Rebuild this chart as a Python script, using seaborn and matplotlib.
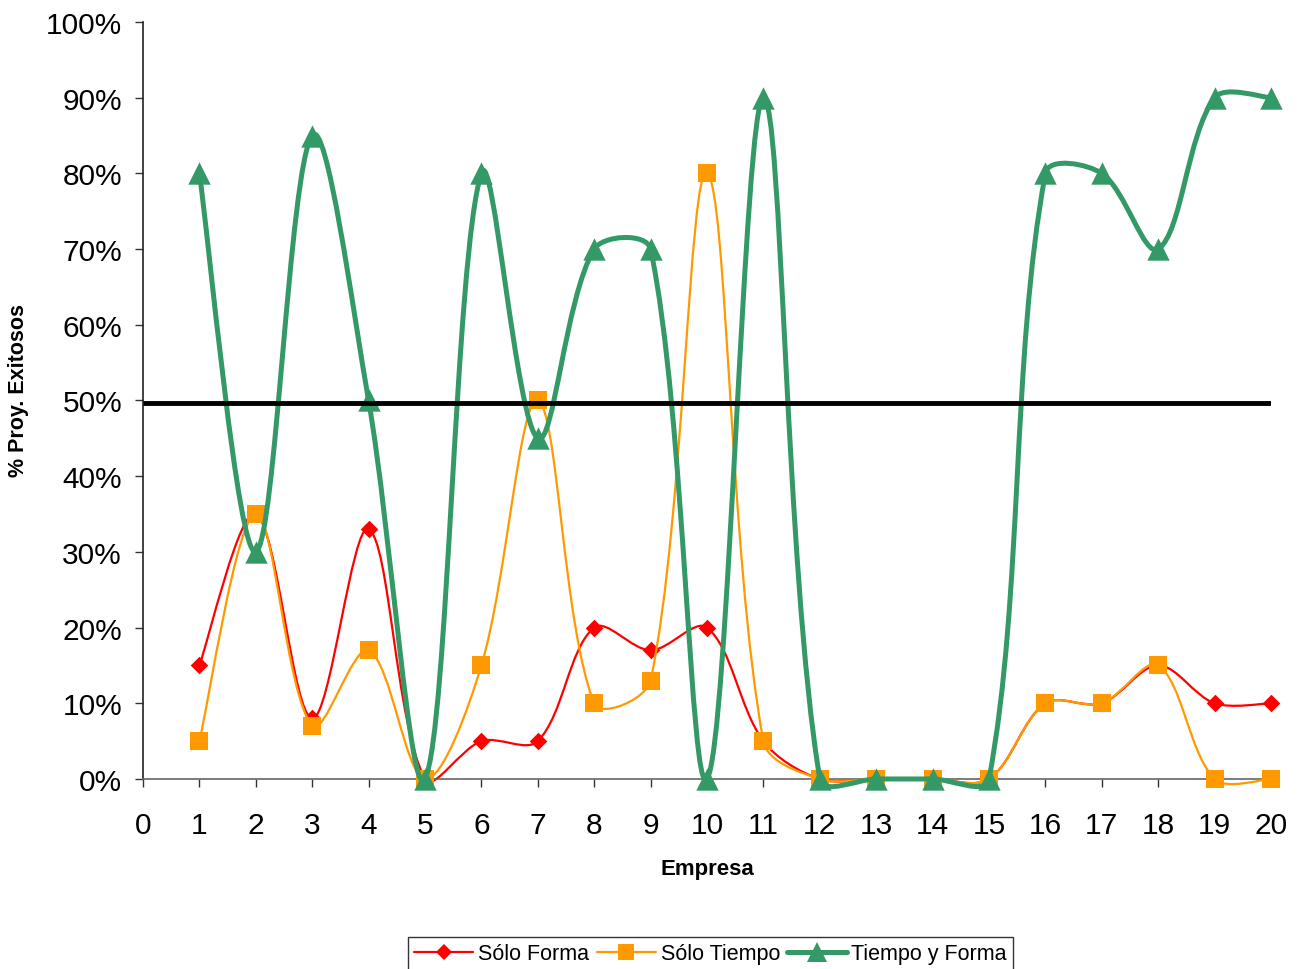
import numpy as np
import pandas as pd
import seaborn as sns
import matplotlib.pyplot as plt
from matplotlib.path import Path
from matplotlib.patches import PathPatch
from matplotlib.lines import Line2D
from matplotlib.ticker import PercentFormatter, MultipleLocator

# datos
empresas = list(range(1, 21))
solo_forma = [15, 35, 8, 33, 0, 5, 5, 20, 17, 20, 5, 0, 0, 0, 0, 10, 10, 15, 10, 10]
solo_tiempo = [5, 35, 7, 17, 0, 15, 50, 10, 13, 80, 5, 0, 0, 0, 0, 10, 10, 15, 0, 0]
tiempo_forma = [80, 30, 85, 50, 0, 80, 45, 70, 70, 0, 90, 0, 0, 0, 0, 80, 80, 70, 90, 90]
umbral_x = [0, 20]
umbral_y = [49.7, 49.7]
series = ["Sólo Forma", "Sólo Tiempo", "Tiempo y Forma"]

df = pd.DataFrame({
    "Empresa": empresas * 3,
    "valor": np.array(solo_forma + solo_tiempo + tiempo_forma) / 100,
    "serie": np.repeat(series, len(empresas)),
})

estilos = {
    "Sólo Forma": dict(color="#FF0000", marker="D", s=80, lw=1.6),
    "Sólo Tiempo": dict(color="#FF9900", marker="s", s=150, lw=1.6),
    "Tiempo y Forma": dict(color="#339966", marker="^", s=260, lw=3.6),
}

sns.set_style("white", rc={"text.color": "black", "axes.labelcolor": "black",
                           "xtick.color": "black", "ytick.color": "black"})
plt.rcParams['font.family'] = ['Liberation Sans', 'DejaVu Sans']


def curva_suave(ax, x, y, **kw):
    # suavizado tipo Excel: bezier, tangentes ponderadas por la longitud en pantalla
    datos = np.column_stack([np.asarray(x, float), np.asarray(y, float)])
    pts = ax.transData.transform(datos)
    n = len(pts)
    verts = [tuple(pts[0])]
    codes = [Path.MOVETO]
    for i in range(n - 1):
        p0 = pts[max(i - 1, 0)]
        p1 = pts[i]
        p2 = pts[i + 1]
        p3 = pts[min(i + 2, n - 1)]
        d01 = np.hypot(*(p1 - p0))
        d12 = np.hypot(*(p2 - p1))
        d23 = np.hypot(*(p3 - p2))
        f1 = d12 / (d01 + d12) / 3 if d01 + d12 > 0 else 0
        f2 = d12 / (d12 + d23) / 3 if d12 + d23 > 0 else 0
        if i == 0:
            f1 = 1 / 6
        if i == n - 2:
            f2 = 1 / 6
        c1 = p1 + (p2 - p0) * f1
        c2 = p2 - (p3 - p1) * f2
        verts += [tuple(c1), tuple(c2), tuple(p2)]
        codes += [Path.CURVE4] * 3
    verts = ax.transData.inverted().transform(np.array(verts))
    ax.add_patch(PathPatch(Path(verts, codes), fill=False, **kw))


fig = plt.figure(figsize=(13.03, 9.70), dpi=100)
ax = fig.add_axes([0.1097, 0.1959, 0.8658, 0.7804])
ax.set_xlim(0, 20)
ax.set_ylim(0, 1)

for z, serie in enumerate(series):
    st = estilos[serie]
    d = df[df["serie"] == serie]
    curva_suave(ax, d["Empresa"], d["valor"], edgecolor=st["color"], lw=st["lw"],
                zorder=2 + z * 2, clip_on=False, joinstyle="round", capstyle="round")
    sns.scatterplot(data=d, x="Empresa", y="valor", ax=ax, color=st["color"],
                    marker=st["marker"], s=st["s"], linewidth=0, zorder=3 + z * 2,
                    clip_on=False, legend=False)

ax.plot(umbral_x, np.array(umbral_y) / 100, color="black", lw=3.5, zorder=9,
        solid_capstyle="butt")

ax.set_xlim(0, 20)
ax.set_ylim(0, 1)
ax.xaxis.set_major_locator(MultipleLocator(1))
ax.yaxis.set_major_locator(MultipleLocator(0.1))
ax.yaxis.set_major_formatter(PercentFormatter(1.0, decimals=0))
ax.tick_params(axis="both", direction="out", length=6, width=1, labelsize=21.5,
               color="#333333", bottom=True, left=True)
ax.tick_params(axis="x", pad=17)
ax.tick_params(axis="y", pad=9)
for lado in ["top", "right"]:
    ax.spines[lado].set_visible(False)
ax.spines["left"].set_color("#222222")
ax.spines["bottom"].set_color("#666666")
for lado in ["left", "bottom"]:
    ax.spines[lado].set_linewidth(1.2)

ax.set_xlabel("Empresa", fontsize=16, fontweight="bold")
ax.set_ylabel("% Proy. Exitosos", fontsize=15.5, fontweight="bold")
ax.xaxis.set_label_coords(0.5, -0.104)
ax.yaxis.set_label_coords(-0.101, 0.514)

handles = [Line2D([], [], color=estilos[s]["color"], lw=estilos[s]["lw"],
                  marker=estilos[s]["marker"], markersize=np.sqrt(estilos[s]["s"]) * 0.9,
                  markeredgewidth=0) for s in series]
leg = fig.legend(handles, series, loc="upper center", bbox_to_anchor=(0.5453, 1 - 938 / 970),
                 ncol=3, fontsize=15.5, frameon=True, fancybox=False, edgecolor="black",
                 handlelength=2.75, handletextpad=0.22, columnspacing=0.35, borderpad=0.3,
                 borderaxespad=0)
leg.get_frame().set_linewidth(1)

fig.savefig("out.png", dpi=100)
